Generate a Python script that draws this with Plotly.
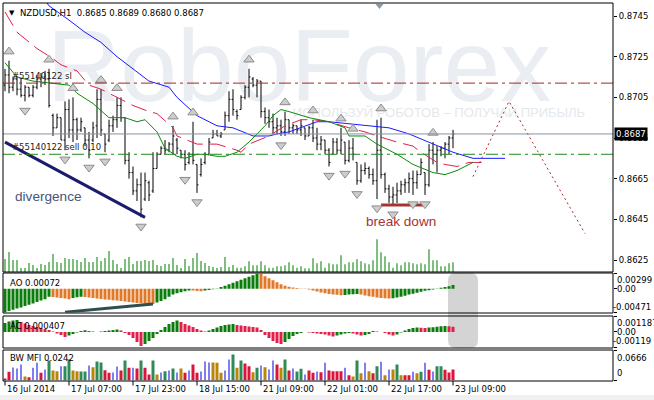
import plotly.graph_objects as go

# ---------------- data ----------------
symbol_title = "NZDUSD,H1"
n_bars = 113
bar_index = list(range(n_bars))

opens = [0.8711, 0.8716, 0.8710, 0.8714, 0.8709, 0.8706, 0.8710, 0.8706, 0.8710, 0.8714,
         0.8715, 0.8714, 0.8696, 0.8690, 0.8695, 0.8684, 0.8699, 0.8689, 0.8694, 0.8689,
         0.8690, 0.8684, 0.8684, 0.8691, 0.8704, 0.8687, 0.8684, 0.8691, 0.8694, 0.8701,
         0.8695, 0.8674, 0.8668, 0.8659, 0.8662, 0.8655, 0.8663, 0.8659, 0.8670, 0.8677,
         0.8680, 0.8679, 0.8682, 0.8684, 0.8679, 0.8677, 0.8673, 0.8677, 0.8672, 0.8667,
         0.8673, 0.8677, 0.8685, 0.8687, 0.8686, 0.8689, 0.8696, 0.8704, 0.8698, 0.8699,
         0.8705, 0.8710, 0.8714, 0.8711, 0.8713, 0.8698, 0.8695, 0.8693, 0.8690, 0.8691,
         0.8688, 0.8694, 0.8690, 0.8691, 0.8689, 0.8690, 0.8686, 0.8690, 0.8685, 0.8682,
         0.8684, 0.8679, 0.8677, 0.8683, 0.8679, 0.8683, 0.8674, 0.8680, 0.8673, 0.8664,
         0.8669, 0.8670, 0.8667, 0.8664, 0.8679, 0.8667, 0.8660, 0.8656, 0.8657, 0.8659,
         0.8662, 0.8663, 0.8665, 0.8663, 0.8667, 0.8668, 0.8662, 0.8679, 0.8677, 0.8679,
         0.8680, 0.8682, 0.8685]
highs = [0.8719, 0.8723, 0.8715, 0.8715, 0.8714, 0.8711, 0.8710, 0.8711, 0.8716, 0.8717,
         0.8718, 0.8719, 0.8697, 0.8697, 0.8695, 0.8703, 0.8704, 0.8705, 0.8695, 0.8695,
         0.8690, 0.8688, 0.8693, 0.8709, 0.8709, 0.8687, 0.8694, 0.8696, 0.8705, 0.8705,
         0.8695, 0.8678, 0.8671, 0.8665, 0.8668, 0.8668, 0.8664, 0.8678, 0.8678, 0.8681,
         0.8684, 0.8683, 0.8691, 0.8685, 0.8679, 0.8679, 0.8678, 0.8693, 0.8672, 0.8675,
         0.8678, 0.8685, 0.8689, 0.8689, 0.8688, 0.8698, 0.8708, 0.8709, 0.8699, 0.8706,
         0.8711, 0.8719, 0.8715, 0.8714, 0.8713, 0.8700, 0.8699, 0.8697, 0.8695, 0.8694,
         0.8698, 0.8694, 0.8692, 0.8691, 0.8694, 0.8690, 0.8691, 0.8694, 0.8690, 0.8686,
         0.8684, 0.8680, 0.8685, 0.8685, 0.8690, 0.8683, 0.8684, 0.8685, 0.8673, 0.8672,
         0.8673, 0.8671, 0.8670, 0.8694, 0.8695, 0.8668, 0.8662, 0.8661, 0.8663, 0.8664,
         0.8665, 0.8668, 0.8669, 0.8669, 0.8675, 0.8668, 0.8682, 0.8683, 0.8681, 0.8681,
         0.8683, 0.8686, 0.8689]
lows = [0.8708, 0.8707, 0.8708, 0.8706, 0.8705, 0.8703, 0.8705, 0.8705, 0.8709, 0.8710,
        0.8711, 0.8700, 0.8686, 0.8690, 0.8684, 0.8679, 0.8685, 0.8683, 0.8684, 0.8688,
        0.8681, 0.8675, 0.8683, 0.8685, 0.8686, 0.8678, 0.8683, 0.8688, 0.8690, 0.8693,
        0.8672, 0.8665, 0.8657, 0.8654, 0.8646, 0.8654, 0.8654, 0.8658, 0.8670, 0.8677,
        0.8677, 0.8678, 0.8677, 0.8677, 0.8675, 0.8669, 0.8672, 0.8672, 0.8658, 0.8666,
        0.8672, 0.8677, 0.8685, 0.8686, 0.8685, 0.8689, 0.8693, 0.8696, 0.8694, 0.8699,
        0.8704, 0.8705, 0.8710, 0.8705, 0.8695, 0.8692, 0.8690, 0.8687, 0.8687, 0.8686,
        0.8686, 0.8687, 0.8687, 0.8687, 0.8686, 0.8684, 0.8686, 0.8683, 0.8679, 0.8679,
        0.8677, 0.8671, 0.8677, 0.8677, 0.8677, 0.8672, 0.8673, 0.8674, 0.8662, 0.8663,
        0.8667, 0.8665, 0.8662, 0.8655, 0.8665, 0.8658, 0.8653, 0.8652, 0.8653, 0.8657,
        0.8658, 0.8658, 0.8657, 0.8660, 0.8667, 0.8657, 0.8661, 0.8672, 0.8668, 0.8676,
        0.8675, 0.8677, 0.8680]
closes = [0.8716, 0.8710, 0.8714, 0.8709, 0.8706, 0.8710, 0.8706, 0.8710, 0.8714, 0.8715,
          0.8714, 0.8701, 0.8690, 0.8695, 0.8684, 0.8699, 0.8689, 0.8694, 0.8689, 0.8693,
          0.8684, 0.8679, 0.8690, 0.8704, 0.8689, 0.8682, 0.8691, 0.8694, 0.8701, 0.8695,
          0.8674, 0.8668, 0.8659, 0.8662, 0.8650, 0.8664, 0.8657, 0.8670, 0.8677, 0.8680,
          0.8679, 0.8682, 0.8686, 0.8680, 0.8677, 0.8672, 0.8677, 0.8674, 0.8662, 0.8672,
          0.8677, 0.8683, 0.8687, 0.8686, 0.8687, 0.8696, 0.8704, 0.8699, 0.8696, 0.8705,
          0.8710, 0.8715, 0.8711, 0.8713, 0.8698, 0.8695, 0.8693, 0.8690, 0.8691, 0.8688,
          0.8694, 0.8690, 0.8691, 0.8689, 0.8691, 0.8686, 0.8690, 0.8685, 0.8682, 0.8684,
          0.8679, 0.8673, 0.8683, 0.8679, 0.8684, 0.8674, 0.8680, 0.8677, 0.8664, 0.8669,
          0.8670, 0.8667, 0.8664, 0.8679, 0.8667, 0.8660, 0.8656, 0.8657, 0.8659, 0.8662,
          0.8663, 0.8665, 0.8663, 0.8667, 0.8673, 0.8662, 0.8679, 0.8677, 0.8679, 0.8680,
          0.8682, 0.8685, 0.8687]

volumes = [780, 1200, 720, 720, 240, 240, 540, 420, 240, 480, 420, 600, 1080, 600, 540,
           840, 780, 780, 720, 600, 840, 600, 600, 900, 660, 840, 1260, 720, 480, 240,
           780, 900, 480, 660, 660, 720, 660, 720, 420, 360, 480, 480, 840, 420, 240,
           780, 360, 840, 1140, 660, 540, 360, 300, 240, 300, 900, 300, 420,
           258, 258, 342, 642, 402, 402, 642, 402, 258, 258, 342, 342, 402, 582, 402,
           258, 342, 222, 222, 822, 522, 642, 258, 522, 462, 462, 1002, 462, 582, 582,
           762, 642, 522, 462, 702, 1962, 1182, 942, 582, 258, 522, 402, 582, 582, 522,
           462, 522, 462, 1362, 702, 702, 342, 342, 522, 582]

ao_values = [-0.00471, -0.00443, -0.00418, -0.00394, -0.00370, -0.00345, -0.00319, -0.00292,
             -0.00264, -0.00236, -0.00207, -0.00158, -0.00167, -0.00177, -0.00187, -0.00197,
             -0.00207, -0.00187, -0.00171, -0.00158, -0.00167, -0.00177, -0.00187, -0.00197,
             -0.00205, -0.00213, -0.00221, -0.00229, -0.00236, -0.00246, -0.00256, -0.00266,
             -0.00276, -0.00284, -0.00290, -0.00296, -0.00299, -0.00303, -0.00276, -0.00246,
             -0.00207, -0.00158, -0.00118, -0.00089, -0.00069, -0.00049, -0.00035, -0.00039,
             -0.00045, -0.00049, -0.00039, -0.00026, -0.00012, 0.00004, 0.00030, 0.00059,
             0.00089, 0.00118, 0.00148, 0.00177, 0.00207, 0.00236, 0.00266, 0.00299,
             0.00292, 0.00246, 0.00207, 0.00167, 0.00128, 0.00089, 0.00059, 0.00039,
             0.00024, 0.00012, 0.00002, -0.00006, -0.00016, -0.00035, -0.00055, -0.00075,
             -0.00091, -0.00104, -0.00114, -0.00122, -0.00128, -0.00124, -0.00118, -0.00112,
             -0.00108, -0.00118, -0.00134, -0.00148, -0.00162, -0.00173, -0.00183, -0.00191,
             -0.00197, -0.00189, -0.00173, -0.00158, -0.00138, -0.00118, -0.00099, -0.00079,
             -0.00059, -0.00043, -0.00030, -0.00018, -0.00008, 0.00016, 0.00032, 0.00049,
             0.00072]

ac_values = [0.000690, 0.000805, 0.000882, 0.000920, 0.000767, 0.000652, 0.000537, 0.000460,
             0.000384, 0.000307, 0.000230, 0.000153, 0.000038, -0.000115, -0.000230, -0.000384,
             -0.000268, -0.000153, -0.000038, 0.000077, 0.000138, 0.000077, 0.000038, 0.000004,
             0.000038, 0.000077, 0.000115, 0.000153, 0.000192, 0.000115, -0.000077, -0.000230,
             -0.000460, -0.000767, -0.001074, -0.000920, -0.000690, -0.000460, -0.000153, 0.000153,
             0.000384, 0.000614, 0.000767, 0.000882, 0.000767, 0.000614, 0.000499, 0.000384,
             0.000230, 0.000115, 0.000038, 0.000115, 0.000230, 0.000345, 0.000460, 0.000537,
             0.000575, 0.000614, 0.000537, 0.000499, 0.000460, 0.000422, 0.000384, 0.000345,
             0.000153, -0.000230, -0.000460, -0.000690, -0.000844, -0.000920, -0.000767, -0.000537,
             -0.000307, -0.000153, -0.000077, 0.000003, -0.000038, -0.000077, -0.000115, -0.000153,
             -0.000192, -0.000268, -0.000345, -0.000268, -0.000192, -0.000115, -0.000077, -0.000115,
             -0.000192, -0.000268, -0.000230, -0.000153, 0.000077, 0.000038, 0.000001, -0.000077,
             -0.000192, -0.000268, -0.000192, -0.000038, 0.000115, 0.000230, 0.000307, 0.000345,
             0.000322, 0.000299, 0.000337, 0.000368, 0.000399, 0.000430, 0.000460, 0.000437,
             0.000407]

mfi_values = [0.0044, 0.0193, 0.0289, 0.0266, 0.0355, 0.0089, 0.0073, 0.0282, 0.0393, 0.0171,
              0.0244, 0.0444, 0.0222, 0.0206, 0.0317, 0.0317, 0.0466, 0.0222, 0.0206, 0.0200,
              0.0200, 0.0333, 0.0295, 0.0422, 0.0400, 0.0229, 0.0171, 0.0178, 0.0311, 0.0222,
              0.0444, 0.0282, 0.0282, 0.0266, 0.0444, 0.0282, 0.0133, 0.0444, 0.0133, 0.0178,
              0.0206, 0.0222, 0.0266, 0.0178, 0.0266, 0.0171, 0.0222, 0.0355, 0.0171, 0.0200,
              0.0422, 0.0400, 0.0400, 0.0393, 0.0171, 0.0222, 0.0466, 0.0577, 0.0282, 0.0444,
              0.0377, 0.0317, 0.0184, 0.0282, 0.0333, 0.0295, 0.0244, 0.0444, 0.0355, 0.0282,
              0.0466, 0.0222, 0.0266, 0.0200, 0.0260, 0.0133, 0.0222, 0.0171, 0.0200, 0.0184,
              0.0393, 0.0222, 0.0206, 0.0206, 0.0206, 0.0282, 0.0118, 0.0089, 0.0444, 0.0162,
              0.0393, 0.0206, 0.0162, 0.0317, 0.0415, 0.0118, 0.0244, 0.0244, 0.0355, 0.0118,
              0.0118, 0.0118, 0.0193, 0.0162, 0.0193, 0.0393, 0.0238, 0.0200, 0.0317, 0.0317,
              0.0238, 0.0178, 0.0242]
# BW MFI state per bar: G = green (up/up), B = fade, U = fake, R = squat
mfi_states = list("RRUUUBRUUR" "UGBBUGGBBG" "GUBGGRRUUR" "GRURGRRGBU" "GUGUBRURRU"
                  "UUBBBUUGBG" "RRBGUBUURB" "GRUGGURRUR" "URRRRURBGB" "UBRGUBUBGB"
                  "RRUBGURUGG" "RRR")

jaw_x = [9, 11, 16, 20, 24, 28, 32, 36, 41, 43, 48, 53, 57, 62, 66, 68, 71, 75, 78, 81,
         90, 96, 101, 106, 112, 117, 125]
jaw_y = [0.8756, 0.8750, 0.8743, 0.8737, 0.8732, 0.8725, 0.8719, 0.8713, 0.8710, 0.8705,
         0.8696, 0.8691, 0.8690, 0.8686, 0.8686, 0.8687, 0.8688, 0.8691, 0.8693, 0.8693,
         0.8691, 0.8690, 0.8687, 0.8683, 0.8678, 0.8675, 0.8675]
teeth_x = [0, 3, 8, 12, 14, 18, 21, 24, 28, 32, 36, 38, 42, 43, 48, 53, 58, 59, 61, 66,
           70, 74, 77, 81, 86, 90, 93, 98, 102, 104, 108, 110, 113, 116, 120]
teeth_y = [0.8747, 0.8737, 0.8729, 0.8724, 0.8721, 0.8718, 0.8711, 0.8709, 0.8705, 0.8701,
           0.8698, 0.8697, 0.8690, 0.8686, 0.8682, 0.8682, 0.8679, 0.8678, 0.8682, 0.8686,
           0.8691, 0.8694, 0.8694, 0.8693, 0.8690, 0.8688, 0.8686, 0.8683, 0.8681, 0.8678,
           0.8673, 0.8672, 0.8671, 0.8673, 0.8673]
lips_x = [0, 3, 7, 11, 16, 18, 22, 26, 30, 33, 35, 38, 40, 43, 45, 48, 50, 53, 55, 58,
          61, 65, 67, 69, 71, 76, 81, 85, 86, 90, 93, 98, 102, 107, 110, 113, 117]
lips_y = [0.8722, 0.8715, 0.8713, 0.8712, 0.8711, 0.8707, 0.8702, 0.8695, 0.8695, 0.8693,
          0.8694, 0.8688, 0.8680, 0.8676, 0.8675, 0.8677, 0.8677, 0.8676, 0.8676, 0.8678,
          0.8683, 0.8691, 0.8696, 0.8699, 0.8698, 0.8695, 0.8693, 0.8690, 0.8686, 0.8686,
          0.8682, 0.8677, 0.8672, 0.8668, 0.8667, 0.8669, 0.8673]

fractal_up_bars = [1, 11, 17, 24, 28, 42, 47, 61, 70, 77, 84, 87, 94, 107]
fractal_down_bars = [5, 15, 21, 25, 34, 45, 48, 69, 81, 85, 88, 93, 97, 102, 105]

sl_price = 0.8712
sell_price = 0.8677
order_id = "#55140122"
divergence_price_x = [0, 35]
divergence_price_y = [0.8683, 0.8646]
divergence_ao_x = [15, 37]
divergence_ao_y = [-0.00465, -0.00303]
breakdown_x = [94, 105]
breakdown_y = [0.8652, 0.8652]
forecast_x = [117, 126, 145]
forecast_y = [0.8666, 0.8703, 0.8638]

time_tick_bars = [0, 16, 32, 48, 64, 80, 96, 112]
time_tick_labels = ["16 Jul 2014", "17 Jul 07:00", "17 Jul 23:00", "18 Jul 15:00",
                    "21 Jul 09:00", "22 Jul 01:00", "22 Jul 17:00", "23 Jul 09:00"]
price_ticks = [0.8625, 0.8645, 0.8665, 0.8685, 0.8705, 0.8725, 0.8745]
ao_scale = [-0.00471, 0.00299]
ac_scale = [-0.00119, 0.001187]
ac_scale_labels = ["-0.00119", "0.00", "0.001187"]
mfi_scale = [0, 0.0666]

# ---------------- layout helpers ----------------
W, H = 654, 400
FONT = "DejaVu Sans"
ARIAL = "Liberation Sans"


def fx(p):
    return p / W


def fy(p):
    return 1 - p / H


X_RANGE = [-0.5, 152]
PRICE_RANGE = [0.86191, 0.87514]
VOL_RANGE = [0, 16140]

fig = go.Figure()

# watermark (background subplot)
fig.add_trace(go.Scatter(x=[73.5], y=[0.731], mode="text", text=["RoboForex"],
                         textfont=dict(size=102, color="#eaeef2", family=ARIAL),
                         yaxis="y", hoverinfo="skip", showlegend=False))
fig.add_trace(go.Scatter(x=[108.5], y=[0.588], mode="text",
                         text=["ИСПОЛЬЗУЙ РОБОТОВ – ПОЛУЧАЙ ПРИБЫЛЬ"],
                         textfont=dict(size=13, color="#e4e8ec", family=ARIAL),
                         yaxis="y", hoverinfo="skip", showlegend=False))

# volumes
fig.add_trace(go.Bar(x=bar_index, y=volumes, yaxis="y2", width=0.28,
                     marker=dict(color="#1a8c1a", line=dict(width=0)), showlegend=False))

# price bars
fig.add_trace(go.Ohlc(x=bar_index, open=opens, high=highs, low=lows, close=closes,
                      yaxis="y3", tickwidth=0.35,
                      increasing=dict(line=dict(color="black", width=1)),
                      decreasing=dict(line=dict(color="black", width=1)),
                      showlegend=False))

# alligator style lines
fig.add_trace(go.Scatter(x=jaw_x, y=jaw_y, yaxis="y3", mode="lines",
                         line=dict(color="#1a1aff", width=1), showlegend=False))
fig.add_trace(go.Scatter(x=teeth_x, y=teeth_y, yaxis="y3", mode="lines",
                         line=dict(color="#e0204a", width=1, dash="16px,7px"), showlegend=False))
fig.add_trace(go.Scatter(x=lips_x, y=lips_y, yaxis="y3", mode="lines",
                         line=dict(color="#0a8a0a", width=1), showlegend=False))

# divergence, break down, forecast
fig.add_trace(go.Scatter(x=divergence_price_x, y=divergence_price_y, yaxis="y3", mode="lines",
                         line=dict(color="#1c1c6e", width=3), showlegend=False))
fig.add_trace(go.Scatter(x=breakdown_x, y=breakdown_y, yaxis="y3", mode="lines",
                         line=dict(color="#a83232", width=3), showlegend=False))
fig.add_trace(go.Scatter(x=forecast_x, y=forecast_y, yaxis="y3", mode="lines",
                         line=dict(color="#a52a2a", width=1, dash="2px,3px"), showlegend=False))

# fractals
off = 0.00045
fig.add_trace(go.Scatter(x=fractal_up_bars, y=[highs[i] + off for i in fractal_up_bars],
                         yaxis="y3", mode="markers",
                         marker=dict(symbol="triangle-up", size=9, color="#cdcdcd",
                                     line=dict(color="#8c8c8c", width=1)), showlegend=False))
fig.add_trace(go.Scatter(x=fractal_down_bars, y=[lows[i] - off for i in fractal_down_bars],
                         yaxis="y3", mode="markers",
                         marker=dict(symbol="triangle-down", size=9, color="#cdcdcd",
                                     line=dict(color="#8c8c8c", width=1)), showlegend=False))

# AO
ao_colors = ["#0a7d0a" if i == 0 or ao_values[i] >= ao_values[i - 1] else "#e07a2a"
             for i in range(n_bars)]
fig.add_trace(go.Bar(x=bar_index, y=ao_values, yaxis="y4", width=0.75,
                     marker=dict(color=ao_colors, line=dict(width=0)), showlegend=False))
fig.add_trace(go.Scatter(x=divergence_ao_x, y=divergence_ao_y, yaxis="y4", mode="lines",
                         line=dict(color="#2f4f4f", width=3), showlegend=False))

# AC
ac_colors = ["#0a7d0a" if i == 0 or ac_values[i] >= ac_values[i - 1] else "#e0204a"
             for i in range(n_bars)]
fig.add_trace(go.Bar(x=bar_index, y=ac_values, yaxis="y5", width=0.75,
                     marker=dict(color=ac_colors, line=dict(width=0)), showlegend=False))

# BW MFI
mfi_style = {"G": ("#2e8b57", 0.75), "B": ("#b8860b", 0.75),
             "U": ("#0000dd", 0.25), "R": ("#dc143c", 0.75)}
for st, (col, wd) in mfi_style.items():
    xs = [i for i in bar_index if mfi_states[i] == st]
    fig.add_trace(go.Bar(x=xs, y=[mfi_values[i] for i in xs], yaxis="y6", width=wd,
                         marker=dict(color=col, line=dict(width=0)), showlegend=False))

# ---------------- shapes ----------------
shapes = []
# grey rounded highlight behind latest AO/AC bars
x0, x1, y0, y1 = fx(448), fx(478), fy(348), fy(273)
rx, ry = 8 / W, 8 / H
shapes.append(dict(type="path", xref="paper", yref="paper", layer="below",
                   path=(f"M{x0+rx},{y1} L{x1-rx},{y1} Q{x1},{y1} {x1},{y1-ry} "
                         f"L{x1},{y0+ry} Q{x1},{y0} {x1-rx},{y0} L{x0+rx},{y0} "
                         f"Q{x0},{y0} {x0},{y0+ry} L{x0},{y1-ry} Q{x0},{y1} {x0+rx},{y1} Z"),
                   fillcolor="#d4d4d4", line=dict(width=0)))
# horizontal order lines and current price line
shapes.append(dict(type="line", xref="paper", yref="y3", x0=fx(3), x1=fx(613),
                   y0=closes[-1], y1=closes[-1], line=dict(color="#8592a0", width=1)))
shapes.append(dict(type="line", xref="paper", yref="y3", x0=fx(3), x1=fx(613),
                   y0=sl_price, y1=sl_price,
                   line=dict(color="#a3282a", width=1, dash="12px,4px,3px,4px")))
shapes.append(dict(type="line", xref="paper", yref="y3", x0=fx(3), x1=fx(613),
                   y0=sell_price, y1=sell_price,
                   line=dict(color="#1f8a1f", width=1, dash="12px,4px,3px,4px")))
# panel borders
for top, bot in [(3, 272), (273, 313), (316, 348), (350, 381)]:
    shapes.append(dict(type="rect", xref="paper", yref="paper", x0=fx(3), x1=fx(613),
                       y0=fy(bot), y1=fy(top), line=dict(color="black", width=1),
                       fillcolor="rgba(0,0,0,0)", layer="above"))
# time ticks
for b in time_tick_bars:
    shapes.append(dict(type="line", xref="x", yref="paper", x0=b, x1=b,
                       y0=fy(381), y1=fy(385.5), line=dict(color="black", width=1)))
# chart shift marker
shapes.append(dict(type="path", xref="paper", yref="paper",
                   path=f"M{fx(375.5)},{fy(4)} L{fx(383.5)},{fy(4)} L{fx(379.5)},{fy(9)} Z",
                   fillcolor="#8a98a6", line=dict(width=0)))
# bottom window band
shapes.append(dict(type="rect", xref="paper", yref="paper", x0=0, x1=1, y0=0, y1=fy(395),
                   fillcolor="#f0f0f0", line=dict(width=0), layer="below"))

# ---------------- annotations ----------------
ann = []


def txt(x_px, y_px, text, size=8.5, color="black", family=FONT, anchor="left", **kw):
    ann.append(dict(xref="paper", yref="paper", x=fx(x_px), y=fy(y_px), text=text,
                    showarrow=False, xanchor=anchor, yanchor="middle",
                    font=dict(size=size, color=color, family=family), **kw))


title = (f"{symbol_title}\u00a0\u00a0{opens[-1]:.4f} {highs[-1]:.4f} "
         f"{lows[-1]:.4f} {closes[-1]:.4f}")
txt(18, 12.5, title)
txt(7, 13, "▼", size=7)
ann.append(dict(xref="paper", yref="y3", x=fx(10), y=sl_price, text=f"{order_id} sl",
                showarrow=False, xanchor="left", yanchor="bottom",
                font=dict(size=8.5, color="#222222", family=FONT)))
ann.append(dict(xref="paper", yref="y3", x=fx(10), y=sell_price, text=f"{order_id} sell 0.10",
                showarrow=False, xanchor="left", yanchor="bottom",
                font=dict(size=8.5, color="#222222", family=FONT)))
ann.append(dict(xref="x", yref="y3", x=10.75, y=0.8656, text="divergence", showarrow=False,
                font=dict(size=13.6, color="#45557a", family=ARIAL)))
ann.append(dict(xref="x", yref="y3", x=99, y=0.8644, text="break down", showarrow=False,
                font=dict(size=13.6, color="#a83232", family=ARIAL)))
ann.append(dict(xref="paper", yref="y3", x=fx(613.5), y=closes[-1], text=f"{closes[-1]:.4f}",
                showarrow=False, xanchor="left", yanchor="middle", bgcolor="black",
                borderpad=1, font=dict(size=8.5, color="white", family=FONT)))

txt(8, 283, f"AO {ao_values[-1]:.5f}")
txt(8, 326, f"AC {ac_values[-1]:.6f}")
txt(8, 358, f"BW MFI {mfi_values[-1]:.4f}")

txt(615, 280, f"{ao_scale[1]:.5f}")
txt(615, 289, "0.00")
txt(611, 307, f"{ao_scale[0]:.5f}")
txt(615, 323, ac_scale_labels[2])
txt(615, 332, ac_scale_labels[1])
txt(611, 341, ac_scale_labels[0])
txt(615, 358, f"{mfi_scale[1]:.4f}")
txt(615, 373, "0")

for b, lab in zip(time_tick_bars, time_tick_labels):
    ann.append(dict(xref="x", yref="paper", x=b, y=fy(388.5), text=lab, showarrow=False,
                    xanchor="left", yanchor="middle", xshift=0,
                    font=dict(size=8.5, color="black", family=FONT)))

# ---------------- axes ----------------
hidden = dict(visible=False, showgrid=False, zeroline=False, fixedrange=True)
sub_axis = dict(side="right", anchor="x", showgrid=False, zeroline=False, showline=False,
                ticks="outside", ticklen=3, tickcolor="black", showticklabels=False)

fig.update_layout(
    width=W, height=H, autosize=False, template="none",
    margin=dict(l=0, r=0, t=0, b=0, pad=0),
    paper_bgcolor="white", plot_bgcolor="rgba(0,0,0,0)",
    font=dict(family=FONT, size=8.5, color="black"),
    showlegend=False, hovermode=False, barmode="overlay",
    xaxis=dict(domain=[fx(3), fx(613)], range=X_RANGE, visible=False,
               rangeslider=dict(visible=False), showgrid=False, zeroline=False),
    yaxis=dict(domain=[fy(272), fy(3)], range=[0, 1], **hidden),
    yaxis2=dict(overlaying="y", range=VOL_RANGE, **hidden),
    yaxis3=dict(overlaying="y", side="right", anchor="x", range=PRICE_RANGE,
                tickvals=price_ticks, ticktext=[f"{p:.4f}" for p in price_ticks],
                ticks="outside", ticklen=3, tickcolor="black",
                tickfont=dict(size=8.5, family=FONT, color="black"),
                showgrid=False, zeroline=False, showline=False),
    yaxis4=dict(domain=[fy(312.5), fy(273.5)], range=ao_scale,
                tickvals=[ao_scale[0], 0, ao_scale[1]], **sub_axis),
    yaxis5=dict(domain=[fy(347.5), fy(316.5)], range=ac_scale,
                tickvals=[ac_scale[0], 0, ac_scale[1]], **sub_axis),
    yaxis6=dict(domain=[fy(380.5), fy(350.5)], range=mfi_scale,
                tickvals=[0, mfi_scale[1]], **sub_axis),
    shapes=shapes, annotations=ann,
)

fig.write_html("out.html", config={"displayModeBar": False, "staticPlot": True},
               post_script="document.body.style.margin='0';document.body.style.overflow='hidden';")
